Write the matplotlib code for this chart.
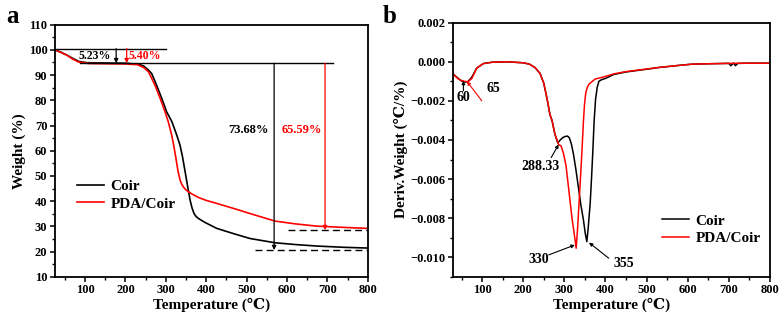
"""TGA / DTG curves: Coir vs PDA/Coir."""

import matplotlib
matplotlib.use("Agg")
import matplotlib.pyplot as plt
from matplotlib.ticker import MultipleLocator, FuncFormatter

plt.rcParams["font.family"] = ["Liberation Serif", "DejaVu Serif"]
plt.rcParams["font.weight"] = "bold"
plt.rcParams["axes.unicode_minus"] = True

# ---- (a) TGA ----
tga_coir_t = [25, 40, 55, 70, 85, 105, 150, 200, 232, 245, 255, 265, 277, 290, 302, 315,
              327, 335, 341, 347, 354, 360, 365, 370, 375, 380, 390, 400, 426, 470, 508,
              570, 620, 673, 740, 800]
tga_coir_w = [100, 99.1, 97.9, 96.6, 95.4, 94.9, 94.8, 94.7, 94.3, 93.6, 92.3, 90.6, 86.0,
              80.7, 75.4, 71.5, 66.2, 62.2, 57.8, 52.3, 45.8, 40.4, 37.2, 35.0, 33.9, 33.2,
              32.2, 31.3, 29.2, 27.0, 25.2, 23.5, 22.8, 22.2, 21.7, 21.4]
tga_pda_t = [25, 40, 55, 67, 83, 108, 150, 200, 230, 245, 257, 273, 286, 298, 306, 314,
             319, 325, 330, 335, 339, 343, 349, 356, 365, 380, 400, 426, 470, 508, 570,
             620, 673, 740, 800]
tga_pda_w = [100, 99.0, 97.9, 96.6, 95.2, 94.6, 94.5, 94.4, 94.1, 93.0, 91.3, 86.0, 80.7,
             75.4, 71.5, 66.5, 62.5, 57.0, 52.0, 48.5, 46.8, 45.7, 44.6, 43.7, 42.8, 41.5,
             40.3, 39.1, 37.0, 35.1, 32.1, 31.0, 30.1, 29.6, 29.2]

# ---- (b) DTG (values x 1e-3) ----
dtg_coir_t = [27, 42, 50, 59, 66, 75, 87, 103, 125, 160, 200, 215, 229, 241, 250, 258,
              265, 270, 277, 284, 290, 296, 302, 307.5, 312, 317, 322, 328, 334, 340,
              346.5, 351, 354.7, 358, 362.8, 366, 369, 372.5, 376, 380, 384, 390, 400,
              420, 450, 500, 530, 580, 611, 650, 700, 705, 712, 716, 722, 750, 800]
dtg_coir_d = [-0.58, -0.85, -0.98, -1.04, -1.0, -0.78, -0.32, -0.09, -0.02, 0.0, -0.05,
              -0.12, -0.3, -0.6, -1.1, -1.9, -2.7, -3.0, -3.7, -4.15, -4.0, -3.88, -3.82,
              -3.8, -3.88, -4.2, -4.7, -5.5, -6.4, -7.3, -8.1, -8.8, -9.2, -8.5, -7.25,
              -6.0, -4.7, -3.0, -1.9, -1.3, -1.0, -0.92, -0.85, -0.65, -0.52, -0.38, -0.29,
              -0.18, -0.12, -0.1, -0.08, -0.2, -0.06, -0.2, -0.08, -0.07, -0.07]
dtg_pda_t = [27, 42, 50, 58, 65, 75, 87, 103, 125, 160, 200, 215, 229, 241, 250, 258,
             265, 270, 277, 286, 292, 298, 304, 310, 318, 322, 326, 328.7, 332, 335, 338,
             342.5, 346.5, 349, 352, 356, 360, 375, 395, 420, 450, 500, 530, 580, 611,
             650, 700, 750, 800]
dtg_pda_d = [-0.58, -0.88, -0.96, -1.0, -1.03, -0.85, -0.32, -0.09, -0.02, 0.0, -0.05,
             -0.12, -0.3, -0.6, -1.1, -1.9, -2.7, -3.0, -3.7, -4.23, -4.3, -4.7, -5.3,
             -6.4, -7.9, -8.5, -9.1, -9.54, -8.6, -7.5, -6.4, -4.7, -3.0, -2.2, -1.6,
             -1.3, -1.14, -0.88, -0.78, -0.62, -0.5, -0.37, -0.29, -0.18, -0.12, -0.1,
             -0.08, -0.07, -0.07]

fig = plt.figure(figsize=(7.84, 3.2), dpi=100)
ax1 = fig.add_axes([0.0702, 0.135, 0.399, 0.788])
ax2 = fig.add_axes([0.578, 0.135, 0.404, 0.794])

for ax in (ax1, ax2):
    for s in ax.spines.values():
        s.set_linewidth(1.3)
    ax.tick_params(which="major", direction="out", length=3.5, width=1.1,
                   labelsize=9, top=False, right=False, pad=2)
    ax.tick_params(which="minor", direction="out", length=2, width=1.0,
                   top=False, right=False)

# ---- panel a ----
ax1.plot(tga_coir_t, tga_coir_w, color="black", lw=1.2, label="Coir")
ax1.plot(tga_pda_t, tga_pda_w, color="red", lw=1.2, label="PDA/Coir")
ax1.set_xlim(25.7, 800)
ax1.set_ylim(10, 110)
ax1.xaxis.set_major_locator(MultipleLocator(100))
ax1.xaxis.set_minor_locator(MultipleLocator(50))
ax1.yaxis.set_major_locator(MultipleLocator(10))
ax1.yaxis.set_minor_locator(MultipleLocator(5))
ax1.set_xlabel("Temperature (\u2103)", fontsize=11, fontweight="bold", labelpad=1)
ax1.set_ylabel("Weight (%)", fontsize=11, fontweight="bold", labelpad=2)

top_level, plateau = 100.5, 94.7
ax1.plot([25.7, 300], [top_level, top_level], color="black", lw=1.0)
ax1.plot([88, 713], [plateau, plateau], color="black", lw=1.0)
arrow_k = dict(arrowstyle="-|>", color="black", lw=0.9, mutation_scale=6,
               shrinkA=0, shrinkB=0)
arrow_r = dict(arrowstyle="-|>", color="red", lw=0.9, mutation_scale=6,
               shrinkA=0, shrinkB=0)
ax1.annotate("", xy=(177, plateau), xytext=(177, top_level), arrowprops=arrow_k)
ax1.annotate("", xy=(203, plateau), xytext=(203, top_level), arrowprops=arrow_r)
ax1.text(123, 97.6, "5.23%", fontsize=8.5, fontweight="bold", ha="center", va="center")
ax1.text(249, 97.6, "5.40%", fontsize=8.5, fontweight="bold", color="red",
         ha="center", va="center")

coir_end, pda_end = 20.6, 28.5
ax1.annotate("", xy=(568, coir_end), xytext=(568, plateau), arrowprops=arrow_k)
ax1.annotate("", xy=(694, pda_end), xytext=(694, plateau), arrowprops=arrow_r)
ax1.plot([521, 800], [coir_end, coir_end], color="black", lw=1.0, ls=(0, (5, 3)))
ax1.plot([603, 800], [pda_end, pda_end], color="black", lw=1.0, ls=(0, (5, 3)))
ax1.text(504, 68.2, "73.68%", fontsize=9, fontweight="bold", ha="center", va="center")
ax1.text(636, 68.2, "65.59%", fontsize=9, fontweight="bold", color="red",
         ha="center", va="center")

ax1.legend(loc="upper left", bbox_to_anchor=(0.05, 0.41), frameon=False,
           prop={"size": 11, "weight": "bold"}, handlelength=1.75,
           handletextpad=0.45, labelspacing=0.25, borderaxespad=0)

# ---- panel b ----
ax2.plot(dtg_coir_t, [d * 1e-3 for d in dtg_coir_d], color="black", lw=1.1, label="Coir")
ax2.plot(dtg_pda_t, [d * 1e-3 for d in dtg_pda_d], color="red", lw=1.1, label="PDA/Coir")
ax2.set_xlim(29.5, 800)
ax2.set_ylim(-0.011, 0.002)
ax2.xaxis.set_major_locator(MultipleLocator(100))
ax2.xaxis.set_minor_locator(MultipleLocator(50))
ax2.yaxis.set_major_locator(MultipleLocator(0.002))
ax2.yaxis.set_minor_locator(MultipleLocator(0.001))
ax2.yaxis.set_major_formatter(FuncFormatter(
    lambda v, p: f"{v:.3f}".replace("-", "\u2212") if abs(v) > 1e-9 else "0.000"))
ax2.set_xlabel("Temperature (\u2103)", fontsize=11, fontweight="bold", labelpad=1)
ax2.set_ylabel("Deriv.Weight (\u2103/%)", fontsize=11, fontweight="bold", labelpad=2)

small_k = dict(arrowstyle="-|>", color="black", lw=0.8, mutation_scale=5,
               shrinkA=0, shrinkB=0)
ax2.annotate("", xy=(54.5, -0.00097), xytext=(54.5, -0.00148), arrowprops=small_k)
ax2.annotate("", xy=(63, -0.00100), xytext=(99, -0.00199),
             arrowprops=dict(small_k, color="red"))
ax2.text(54.5, -0.00182, "60", fontsize=10, fontweight="bold", ha="center", va="center")
ax2.text(127.5, -0.00139, "65", fontsize=10, fontweight="bold", ha="center", va="center")
ax2.annotate("", xy=(286, -0.00423), xytext=(268, -0.0049), arrowprops=small_k)
ax2.text(242, -0.00538, "288.33", fontsize=10, fontweight="bold", ha="center", va="center")
ax2.annotate("", xy=(325.5, -0.00937), xytext=(262, -0.00988), arrowprops=small_k)
ax2.text(238, -0.01014, "330", fontsize=10, fontweight="bold", ha="center", va="center")
ax2.annotate("", xy=(360, -0.00925), xytext=(408, -0.01005), arrowprops=small_k)
ax2.text(445, -0.0103, "355", fontsize=10, fontweight="bold", ha="center", va="center")

ax2.legend(loc="lower right", bbox_to_anchor=(0.99, 0.10), frameon=False,
           prop={"size": 11, "weight": "bold"}, handlelength=1.75,
           handletextpad=0.45, labelspacing=0.25, borderaxespad=0)

fig.text(0.008, 0.928, "a", fontsize=18, fontweight="bold", va="baseline")
fig.text(0.488, 0.928, "b", fontsize=18, fontweight="bold", va="baseline")

fig.savefig("out.png", dpi=100)
